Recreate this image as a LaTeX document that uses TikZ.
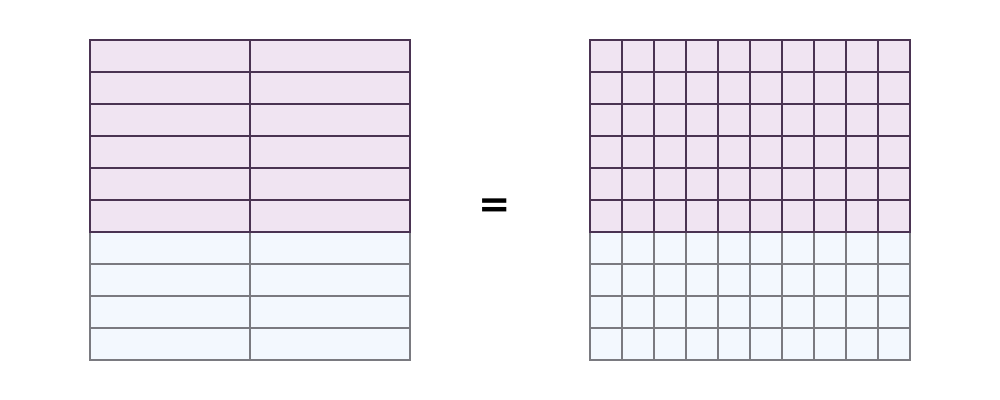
\documentclass[tikz,border=0pt]{standalone}
\usepackage{fontspec}
\setmainfont{DejaVu Sans}
\definecolor{rosa}{HTML}{F0E4F2}
\definecolor{azzurro}{HTML}{F3F8FE}
\definecolor{lineaP}{HTML}{4A3352}
\definecolor{lineaB}{HTML}{7A7A80}
\tikzset{
  cellaP/.style = {rectangle, draw=lineaP, line width=1pt, fill=rosa, inner sep=0, outer sep=0, minimum height=6.4mm},
  cellaB/.style = {rectangle, draw=lineaB, line width=0.6pt, fill=azzurro, inner sep=0, outer sep=0, minimum height=6.4mm},
  larga/.style  = {minimum width=32mm},
  stretta/.style= {minimum width=6.4mm},
  segno/.style  = {font=\fontsize{22}{24}\selectfont\bfseries}
}

\begin{document}
\begin{tikzpicture}[x=0.64cm,y=0.64cm]
  \useasboundingbox (0,0) rectangle (31.25,12.5);
  % left: 10 rows, 2 columns
  \foreach \r in {7,...,10}
    \foreach \c in {1,2}
      \node[cellaB,larga] (l-\r-\c) at ({2.8125+5*\c-2.5},{11.75-\r}) {};
  \foreach \r in {1,...,6}
    \foreach \c in {1,2}
      \node[cellaP,larga] (l-\r-\c) at ({2.8125+5*\c-2.5},{11.75-\r}) {};
  % right: 10 rows, 10 columns
  \foreach \r in {7,...,10}
    \foreach \c in {1,...,10}
      \node[cellaB,stretta] (r-\r-\c) at ({18.4375+\c-0.5},{11.75-\r}) {};
  \foreach \r in {1,...,6}
    \foreach \c in {1,...,10}
      \node[cellaP,stretta] (r-\r-\c) at ({18.4375+\c-0.5},{11.75-\r}) {};
  \node[segno] (uguale) at (15.45,6.0) {=};
\end{tikzpicture}
\end{document}
